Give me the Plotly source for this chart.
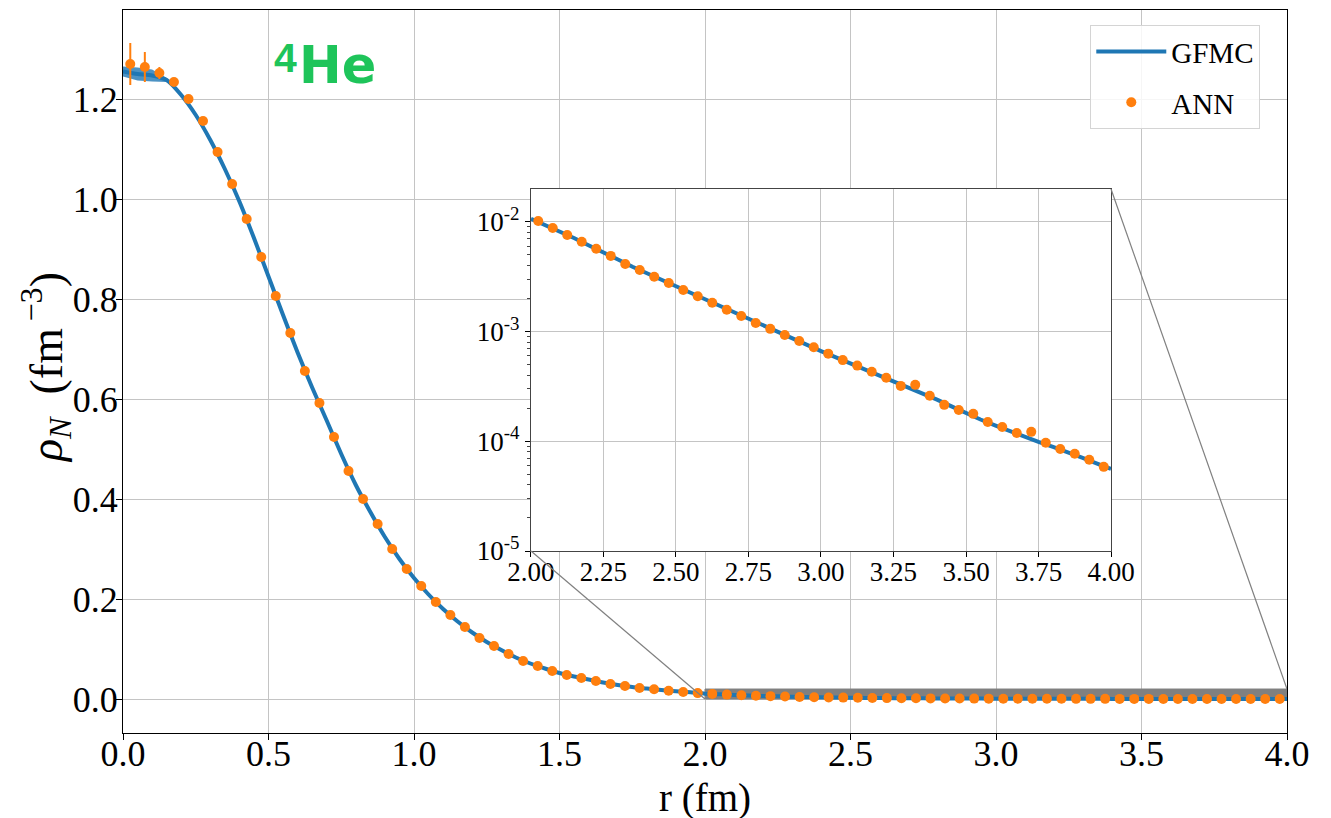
import plotly.graph_objects as go

# --- ANN nucleon density (points with statistical error bars) ---
r_ann = [0.025, 0.075, 0.125, 0.175, 0.225, 0.275, 0.325, 0.375, 0.425, 0.475,
         0.525, 0.575, 0.625, 0.675, 0.725, 0.775, 0.825, 0.875, 0.925, 0.975,
         1.025, 1.075, 1.125, 1.175, 1.225, 1.275, 1.325, 1.375, 1.425, 1.475,
         1.525, 1.575, 1.625, 1.675, 1.725, 1.775, 1.825, 1.875, 1.925, 1.975,
         2.025, 2.075, 2.125, 2.175, 2.225, 2.275, 2.325, 2.375, 2.425, 2.475,
         2.525, 2.575, 2.625, 2.675, 2.725, 2.775, 2.825, 2.875, 2.925, 2.975,
         3.025, 3.075, 3.125, 3.175, 3.225, 3.275, 3.325, 3.375, 3.425, 3.475,
         3.525, 3.575, 3.625, 3.675, 3.725, 3.775, 3.825, 3.875, 3.925, 3.975]
rho_ann = [1.270, 1.264, 1.252, 1.234, 1.200, 1.156, 1.094, 1.030, 0.960, 0.884,
           0.806, 0.732, 0.656, 0.592, 0.524, 0.456, 0.400, 0.350, 0.300, 0.260,
           0.226, 0.194, 0.168, 0.144, 0.122, 0.106, 0.090, 0.076, 0.066, 0.056,
           0.048, 0.042, 0.036, 0.030, 0.026, 0.022, 0.0195, 0.0165, 0.0140, 0.0118,
           1.02e-2, 8.8e-3, 7.6e-3, 6.6e-3, 5.7e-3, 4.9e-3, 4.14e-3, 3.65e-3, 3.16e-3, 2.78e-3,
           2.4e-3, 2.1e-3, 1.83e-3, 1.58e-3, 1.39e-3, 1.2e-3, 1.06e-3, 9.3e-4, 8.2e-4, 7.2e-4,
           6.3e-4, 5.5e-4, 4.9e-4, 4.3e-4, 3.8e-4, 3.2e-4, 3.27e-4, 2.6e-4, 2.15e-4, 1.93e-4,
           1.78e-4, 1.5e-4, 1.35e-4, 1.19e-4, 1.22e-4, 9.7e-5, 8.5e-5, 7.7e-5, 6.8e-5, 5.85e-5]
err_ann = [0.042, 0.030, 0.012, 0.004] + [0.0] * 76

# --- GFMC reference density (line with error band) ---
r_gfmc = [0.00, 0.05, 0.10, 0.15, 0.20, 0.25, 0.30, 0.35, 0.40, 0.45,
          0.50, 0.55, 0.60, 0.65, 0.70, 0.75, 0.80, 0.85, 0.90, 0.95,
          1.00, 1.05, 1.10, 1.15, 1.20, 1.25, 1.30, 1.35, 1.40, 1.45,
          1.50, 1.55, 1.60, 1.65, 1.70, 1.75, 1.80, 1.85, 1.90, 1.95,
          2.00, 2.05, 2.10, 2.15, 2.20, 2.25, 2.30, 2.35, 2.40, 2.45,
          2.50, 2.55, 2.60, 2.65, 2.70, 2.75, 2.80, 2.85, 2.90, 2.95,
          3.00, 3.05, 3.10, 3.15, 3.20, 3.25, 3.30, 3.35, 3.40, 3.45,
          3.50, 3.55, 3.60, 3.65, 3.70, 3.75, 3.80, 3.85, 3.90, 3.95, 4.00]
rho_gfmc = [1.255, 1.250, 1.247, 1.238, 1.208, 1.168, 1.118, 1.060, 0.995, 0.922,
            0.845, 0.768, 0.693, 0.623, 0.557, 0.490, 0.428, 0.374, 0.324, 0.280,
            0.242, 0.209, 0.180, 0.155, 0.133, 0.114, 0.098, 0.083, 0.071, 0.061,
            0.052, 0.045, 0.039, 0.033, 0.028, 0.024, 0.021, 0.018, 0.0155, 0.0133,
            1.07e-2, 9.4e-3, 8.2e-3, 7.1e-3, 6.1e-3, 5.3e-3, 4.55e-3, 3.9e-3, 3.4e-3, 2.95e-3,
            2.58e-3, 2.25e-3, 1.96e-3, 1.7e-3, 1.48e-3, 1.29e-3, 1.13e-3, 9.9e-4, 8.7e-4, 7.6e-4,
            6.65e-4, 5.85e-4, 5.15e-4, 4.55e-4, 4.0e-4, 3.5e-4, 3.08e-4, 2.75e-4, 2.4e-4, 2.08e-4,
            1.8e-4, 1.58e-4, 1.4e-4, 1.24e-4, 1.1e-4, 9.9e-5, 8.9e-5, 8.0e-5, 7.1e-5, 6.3e-5, 5.6e-5]
err_gfmc = [0.010, 0.013, 0.012, 0.004] + [0.0] * 77

# --- axis settings ---
x_ticks = [0.0, 0.5, 1.0, 1.5, 2.0, 2.5, 3.0, 3.5, 4.0]
y_ticks = [0.0, 0.2, 0.4, 0.6, 0.8, 1.0, 1.2]
x_range = [0.0, 4.0]
y_range = [-0.068, 1.378]

inset_x_ticks = [2.00, 2.25, 2.50, 2.75, 3.00, 3.25, 3.50, 3.75, 4.00]
inset_y_ticks = [1e-5, 1e-4, 1e-3, 1e-2]
inset_y_labels = ["10<sup>-5</sup>", "10<sup>-4</sup>", "10<sup>-3</sup>", "10<sup>-2</sup>"]
inset_x_range = [2.0, 4.0]
inset_y_log_range = [-5.0, -1.7]
inset_dom_x = [0.3505, 0.8488]
inset_dom_y = [0.2517, 0.7524]

BLUE = "#1f77b4"
ORANGE = "#ff7f0e"
GRID = "#c4c4c4"
SERIF = "Liberation Serif"
GREEN = "#1ec45a"

fig = go.Figure()

# GFMC error band (visible only at small r)
upper = [v + e for v, e in zip(rho_gfmc, err_gfmc)]
lower = [v - e for v, e in zip(rho_gfmc, err_gfmc)]
fig.add_trace(go.Scatter(x=r_gfmc, y=upper, mode="lines", line=dict(width=0, color=BLUE),
                         showlegend=False, hoverinfo="skip"))
fig.add_trace(go.Scatter(x=r_gfmc, y=lower, mode="lines", line=dict(width=0, color=BLUE),
                         fill="tonexty", fillcolor="rgba(31,119,180,0.8)",
                         showlegend=False, hoverinfo="skip"))

fig.add_trace(go.Scatter(x=r_gfmc, y=rho_gfmc, mode="lines", name="GFMC", legendgroup="g",
                         line=dict(color=BLUE, width=4, shape="spline", smoothing=0.6)))
fig.add_trace(go.Scatter(x=r_ann, y=rho_ann, mode="markers", name="ANN", legendgroup="a",
                         marker=dict(color=ORANGE, size=10),
                         error_y=dict(type="data", array=err_ann, color=ORANGE,
                                      thickness=2, width=0)))

# inset: tail on a log scale
in_r_g = [r for r in r_gfmc if r >= inset_x_range[0]]
in_v_g = [v for r, v in zip(r_gfmc, rho_gfmc) if r >= inset_x_range[0]]
in_r_a = [r for r in r_ann if r >= inset_x_range[0]]
in_v_a = [v for r, v in zip(r_ann, rho_ann) if r >= inset_x_range[0]]
fig.add_trace(go.Scatter(x=in_r_g, y=in_v_g, mode="lines", xaxis="x2", yaxis="y2",
                         line=dict(color=BLUE, width=4), showlegend=False))
fig.add_trace(go.Scatter(x=in_r_a, y=in_v_a, mode="markers", xaxis="x2", yaxis="y2",
                         marker=dict(color=ORANGE, size=10), showlegend=False))

axis_common = dict(showline=True, mirror=True, linecolor="black", linewidth=1.2,
                   ticks="outside", ticklen=6, tickwidth=1.2, tickcolor="black",
                   showgrid=True, gridcolor=GRID, gridwidth=1, zeroline=False,
                   automargin=False)
inset_common = {**axis_common, "linecolor": "#444", "ticklen": 5}

fig.update_layout(
    width=1331, height=818, autosize=False,
    margin=dict(l=123, r=44, t=10, b=85),
    paper_bgcolor="white", plot_bgcolor="white",
    font=dict(family=SERIF, color="black"),
    xaxis=dict(range=x_range, tickvals=x_ticks, ticktext=[f"{v:.1f}" for v in x_ticks],
               tickfont=dict(size=36, family=SERIF), ticklabelstandoff=-17,
               **axis_common),
    yaxis=dict(range=y_range, tickvals=y_ticks, ticktext=[f"{v:.1f}" for v in y_ticks],
               tickfont=dict(size=36, family=SERIF), ticklabelstandoff=-9,
               **axis_common),
    xaxis2=dict(domain=inset_dom_x, anchor="y2", range=inset_x_range,
                tickvals=inset_x_ticks, ticktext=[f"{v:.2f}" for v in inset_x_ticks],
                tickfont=dict(size=27, family=SERIF), ticklabelstandoff=-9,
                **inset_common),
    yaxis2=dict(domain=inset_dom_y, anchor="x2", type="log", range=inset_y_log_range,
                tickvals=inset_y_ticks, ticktext=inset_y_labels,
                tickfont=dict(size=27, family=SERIF),
                minor=dict(ticks="outside", ticklen=3, tickcolor="#444", showgrid=False,
                           tickvals=[m * 10 ** e for e in (-5, -4, -3, -2) for m in range(2, 10)]),
                **inset_common),
    legend=dict(x=0.831, y=0.979, xanchor="left", yanchor="top",
                traceorder="grouped", tracegroupgap=10, itemwidth=70,
                bgcolor="rgba(255,255,255,0.85)", bordercolor="#d4d4d4", borderwidth=1,
                font=dict(size=29, family=SERIF)),
)

# axis titles
fig.add_annotation(xref="paper", yref="paper", x=0.5, y=-0.09, xanchor="center",
                   yanchor="middle", showarrow=False, text="r (fm)", borderpad=0,
                   font=dict(size=39, family=SERIF))
fig.add_annotation(xref="paper", yref="paper", x=-0.066, y=0.505, xanchor="center",
                   yanchor="middle", showarrow=False, textangle=-90, borderpad=0,
                   text="<i>ρ</i><sub><i>N</i></sub>\u2002(fm<sup>\u2009−3</sup>)",
                   font=dict(size=46, family=SERIF))

# white panel behind the inset so the main grid does not show through
fig.add_shape(type="rect", xref="x2 domain", yref="y2 domain", x0=0, x1=1, y0=0, y1=1,
              fillcolor="white", line=dict(width=0), layer="below")

# zoom region on the main axes
zoom_y_top = 10 ** inset_y_log_range[1]
zoom_y_bot = 10 ** inset_y_log_range[0]
fig.add_shape(type="rect", xref="x", yref="y", x0=inset_x_range[0], x1=inset_x_range[1],
              y0=zoom_y_bot, y1=zoom_y_top, fillcolor="#808080",
              line=dict(color="#808080", width=1), layer="between")


def main_from_domain(fx, fy):
    """Convert a paper-domain position into main-axis data coordinates."""
    return (x_range[0] + fx * (x_range[1] - x_range[0]),
            y_range[0] + fy * (y_range[1] - y_range[0]))


ll = main_from_domain(inset_dom_x[0], inset_dom_y[0])
ur = main_from_domain(inset_dom_x[1], inset_dom_y[1])
fig.add_shape(type="line", xref="x", yref="y", x0=inset_x_range[0], y0=zoom_y_bot,
              x1=ll[0], y1=ll[1], line=dict(color="#808080", width=1.2), layer="above")
fig.add_shape(type="line", xref="x", yref="y", x0=inset_x_range[1], y0=zoom_y_top,
              x1=ur[0], y1=ur[1], line=dict(color="#808080", width=1.2), layer="above")

# nucleus label: mass number raised before the element symbol
fig.add_annotation(xref="paper", yref="paper", x=0.1285, y=0.9336, xanchor="left",
                   yanchor="middle", showarrow=False, text="<b>4</b>", borderpad=0,
                   font=dict(family="Liberation Sans", size=41, color=GREEN))
fig.add_annotation(xref="paper", yref="paper", x=0.1505, y=0.923, xanchor="left",
                   yanchor="middle", showarrow=False, text="<b>He</b>", borderpad=0,
                   font=dict(family="DejaVu Sans", size=51, color=GREEN))

fig.write_html("out.html")
